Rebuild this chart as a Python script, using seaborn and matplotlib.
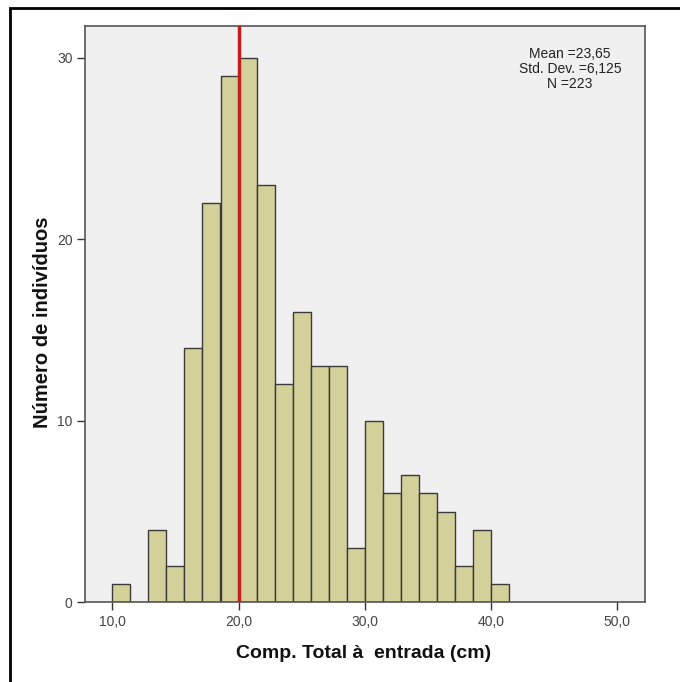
import numpy as np
import pandas as pd
import matplotlib
matplotlib.use("Agg")
import matplotlib.pyplot as plt
import seaborn as sns
from matplotlib.patches import Rectangle

# Data
bin_width = 10 / 7
bin_start = 10.0
counts = [1, 0, 4, 2, 14, 22, 29, 30, 23, 12, 16, 13, 13, 3, 10, 6, 7, 6, 5, 2, 4, 1]
x_ticks = [10, 20, 30, 40, 50]
x_tick_labels = ["10,0", "20,0", "30,0", "40,0", "50,0"]
y_ticks = [0, 10, 20, 30]
ref_line_x = 20.0
stats_text = ["Mean =23,65", "Std. Dev. =6,125", "N =223"]
x_label = "Comp. Total à  entrada (cm)"
y_label = "Número de indivíduos"

edges = bin_start + bin_width * np.arange(len(counts) + 1)
centers = (edges[:-1] + edges[1:]) / 2
df = pd.DataFrame({"x": centers, "n": counts})

sns.set_style("white")
plt.rcParams["font.family"] = ["Liberation Sans", "DejaVu Sans"]

fig = plt.figure(figsize=(6.8, 6.82), dpi=100)
ax = fig.add_axes([85 / 680, 1 - 602.3 / 682, (645 - 85) / 680, (602.3 - 26) / 682])
ax.set_facecolor("#F0F0F0")

sns.histplot(data=df, x="x", weights="n", binwidth=bin_width,
             binrange=(float(edges[0]), float(edges[-1])), ax=ax,
             color="#D4D09A", edgecolor="#3a3a3a", linewidth=1.0, alpha=1.0)

ax.axvline(ref_line_x, color="#C41E1E", linewidth=2.5, zorder=5)

px_per_unit = (491 - 112.3) / 30
ax.set_xlim(10 - (112.3 - 85) / px_per_unit, 10 + (645 - 112.3) / px_per_unit)
ax.set_ylim(0, (602.3 - 26) / 18.16)

ax.set_xticks(x_ticks)
ax.set_xticklabels(x_tick_labels)
ax.set_yticks(y_ticks)
ax.tick_params(axis="both", which="both", direction="out", length=6, width=1,
               color="#333333", labelcolor="#444444", labelsize=10, pad=3,
               bottom=True, left=True)

for s in ax.spines.values():
    s.set_color("#555555")
    s.set_linewidth(1.2)

ax.set_xlabel(x_label, fontsize=14, fontweight="bold", color="#111111", va="center")
ax.xaxis.set_label_coords((364 - 85) / 560, (602.3 - 654) / 576.3)
ax.set_ylabel(y_label, fontsize=14.5, fontweight="bold", color="#111111", va="center")
ax.yaxis.set_label_coords((43 - 85) / 560, (602.3 - 322) / 576.3)

for i, t in enumerate(stats_text):
    fig.text(570 / 680, 1 - (54 + 15 * i) / 682, t, ha="center", va="center",
             fontsize=10, color="#222222")

# outer frame (left and top visible)
fig.patches.append(Rectangle((10 / 680, -0.1), 1.2, 1 - 8 / 682 + 0.1,
                             transform=fig.transFigure, fill=False,
                             edgecolor="black", linewidth=2))

fig.savefig("out.png", dpi=100, facecolor="white")
